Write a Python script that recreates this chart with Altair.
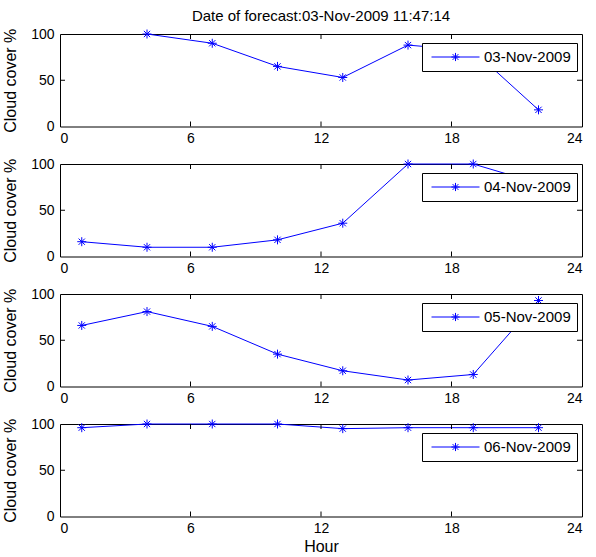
import altair as alt
import pandas as pd

title_text = "Date of forecast:03-Nov-2009 11:47:14"
dates = ["03-Nov-2009", "04-Nov-2009", "05-Nov-2009", "06-Nov-2009"]
hours_day1 = [4, 7, 10, 13, 16, 19, 22]
hours = [1, 4, 7, 10, 13, 16, 19, 22]
cover_day1 = [100, 90, 65, 53, 88, 82, 18]
cover_day2 = [16, 10, 10, 18, 36, 100, 100, 79]
cover_day3 = [66, 81, 65, 35, 17, 7, 13, 93]
cover_day4 = [96, 100, 100, 100, 95, 96, 96, 96]
x_ticks = [0, 6, 12, 18, 24]
y_ticks = [0, 50, 100]
inner_x_ticks = [6, 12, 18]
inner_y_ticks = [50]

W, H = 522, 92.5
BLUE = "#0000ff"
FONT = "Liberation Sans"
TICK = 5

STAR = "M-1,0L1,0M0,-1L0,1M-0.7,-0.7L0.7,0.7M-0.7,0.7L0.7,-0.7"
LEG_SYM = ("M-0.875,0L1.125,0M0.125,-0.17L0.125,0.17M-0.045,0L0.295,0"
           "M0.005,-0.12L0.245,0.12M0.005,0.12L0.245,-0.12")


def panel(date, hrs, vals, first=False, last=False):
    df = pd.DataFrame({"hour": hrs, "cover": vals, "date": date})
    xscale = alt.Scale(domain=[0, 24], nice=False, zero=False)
    yscale = alt.Scale(domain=[0, 100], nice=False)
    xaxis_kw = dict(values=x_ticks, ticks=False, domain=False, grid=False,
                    labelPadding=5, format="d", titlePadding=3)
    xaxis_kw["title"] = "Hour" if last else None
    x = alt.X("hour:Q", scale=xscale, axis=alt.Axis(**xaxis_kw))
    y = alt.Y("cover:Q", scale=yscale,
              axis=alt.Axis(values=y_ticks, ticks=False, domain=False, grid=False,
                            title="Cloud cover %", labelPadding=6, titlePadding=12))
    line = alt.Chart(df).mark_line(strokeWidth=1).encode(
        x=x, y=y,
        color=alt.Color("date:N", scale=alt.Scale(domain=[date], range=[BLUE]),
                        legend=alt.Legend(title=None, orient="none", legendX=362, legendY=9,
                                          symbolType=LEG_SYM, symbolSize=2304,
                                          symbolStrokeWidth=1, strokeColor="black",
                                          fillColor="white", padding=6, clipHeight=16,
                                          labelFont=FONT, labelFontSize=15,
                                          labelColor="black", labelOffset=7)))
    pts = alt.Chart(df).mark_point(shape=STAR, size=81, filled=False, strokeWidth=1,
                                   color=BLUE, opacity=1).encode(x=x, y=y)
    txdf = pd.DataFrame({"hour": inner_x_ticks})
    tydf = pd.DataFrame({"cover": inner_y_ticks})
    tb = alt.Chart(txdf).mark_rule(color="black", strokeWidth=1).encode(
        x=x, y=alt.value(H), y2=alt.value(H - TICK))
    tt = alt.Chart(txdf).mark_rule(color="black", strokeWidth=1).encode(
        x=x, y=alt.value(0), y2=alt.value(TICK))
    tl = alt.Chart(tydf).mark_rule(color="black", strokeWidth=1).encode(
        y=y, x=alt.value(0), x2=alt.value(TICK))
    tr = alt.Chart(tydf).mark_rule(color="black", strokeWidth=1).encode(
        y=y, x=alt.value(W), x2=alt.value(W - TICK))
    props = dict(width=W, height=H)
    if first:
        props["title"] = alt.Title(title_text, fontSize=15, fontWeight="normal",
                                   font=FONT, color="black", offset=3, anchor="middle")
    return alt.layer(line, pts, tb, tt, tl, tr).properties(**props)


chart = alt.vconcat(
    panel(dates[0], hours_day1, cover_day1, first=True),
    panel(dates[1], hours, cover_day2),
    panel(dates[2], hours, cover_day3),
    panel(dates[3], hours, cover_day4, last=True),
    spacing=37, bounds="flush",
).resolve_scale(color="independent").resolve_legend(color="independent").properties(
    padding={"left": 2, "top": 8, "right": 5, "bottom": 5}, background="white"
).configure_view(stroke="black", strokeWidth=1).configure_axis(
    labelFont=FONT, labelFontSize=14, labelColor="black",
    titleFont=FONT, titleFontSize=16, titleFontWeight="normal", titleColor="black"
)

chart.save("out.html", embed_options={"renderer": "svg", "actions": False})
